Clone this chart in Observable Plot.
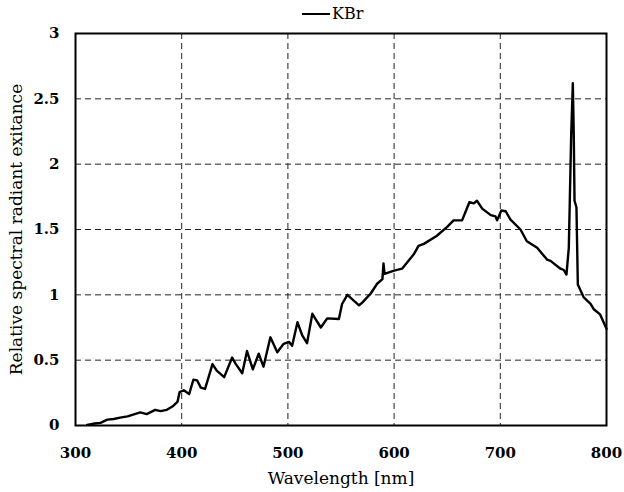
<!DOCTYPE html>
<html>
<head>
<meta charset="utf-8">
<script src="https://cdn.jsdelivr.net/npm/d3@7"></script>
<script src="https://cdn.jsdelivr.net/npm/@observablehq/plot@0.6"></script>
<style>
  html, body { margin: 0; padding: 0; background: #fff; }
  #wrap { position: relative; width: 624px; height: 492px; }
  #legend { position: absolute; left: 302px; top: 4px; font-family: "DejaVu Serif", serif; font-size: 16px; color: #000; display: flex; align-items: center; }
  #legend .sw { display: inline-block; width: 28px; height: 0; border-top: 2px solid #000; margin-right: 2px; }
  svg text { font-family: "DejaVu Serif", serif; fill: #000; }
  g[aria-label="x-axis tick label"] text, g[aria-label="y-axis tick label"] text { font-weight: bold; font-size: 15px; }
  g[aria-label="x-axis label"] text, g[aria-label="y-axis label"] text { font-size: 17px; }
</style>
</head>
<body>
<div id="wrap">
  <div id="legend"><span class="sw"></span><span id="legendText"></span></div>
</div>
<script>
const seriesName = "KBr";
const xTicks = [300, 400, 500, 600, 700, 800];
const yTicks = [0, 0.5, 1, 1.5, 2, 2.5, 3];
const xTickLabels = ["300", "400", "500", "600", "700", "800"];
const yTickLabels = ["0", "0.5", "1", "1.5", "2", "2.5", "3"];
const xTitle = "Wavelength [nm]";
const yTitle = "Relative spectral radiant exitance";

const wavelength = [
  311, 318, 323.5, 330, 336, 342, 349, 355, 361, 367, 375, 380, 386, 392, 396, 398,
  402, 407, 411, 414.5, 418, 422, 429, 433, 440, 447.5, 451, 457, 461.5, 467, 472.5, 477,
  483.5, 490, 496, 501, 504, 509, 513.5, 518, 523, 531, 537, 548, 551, 556, 567, 570,
  578, 584, 589, 590, 591, 600, 607.5, 618.5, 623, 628, 640, 650, 656, 664, 667, 671,
  675, 678, 683, 691, 695.5, 697, 701, 705, 709.6, 719, 725, 734.7, 744, 747.3, 756.7,
  759.8, 762.3, 764.5, 765.4, 766.7, 768.3, 769.2, 769.9, 771.7, 773, 778.6, 785, 788,
  794, 800
];
const exitance = [
  0.005, 0.015, 0.02, 0.045, 0.05, 0.06, 0.07, 0.085, 0.10, 0.087, 0.12, 0.11, 0.12, 0.15, 0.18, 0.255,
  0.27, 0.24, 0.35, 0.345, 0.29, 0.28, 0.47, 0.42, 0.37, 0.52, 0.47, 0.40, 0.57, 0.43, 0.55, 0.45,
  0.675, 0.56, 0.625, 0.64, 0.61, 0.79, 0.69, 0.63, 0.855, 0.75, 0.82, 0.815, 0.93, 1.00, 0.92, 0.94,
  1.01, 1.085, 1.12, 1.24, 1.16, 1.185, 1.2, 1.31, 1.375, 1.39, 1.45, 1.52, 1.57, 1.57, 1.63, 1.71,
  1.70, 1.72, 1.66, 1.61, 1.60, 1.57, 1.645, 1.64, 1.575, 1.5, 1.41, 1.36, 1.27, 1.26, 1.2,
  1.19, 1.155, 1.36, 1.70, 2.21, 2.62, 2.21, 1.72, 1.67, 1.08, 0.98, 0.93, 0.89,
  0.85, 0.74
];

const data = wavelength.map((w, i) => ({w, v: exitance[i]}));
document.getElementById("legendText").textContent = seriesName;

const chart = Plot.plot({
  width: 624,
  height: 492,
  marginLeft: 75,
  marginRight: 18,
  marginTop: 33,
  marginBottom: 67,
  x: {domain: [300, 800]},
  y: {domain: [0, 3]},
  marks: [
    Plot.gridX(xTicks, {stroke: "#222", strokeOpacity: 1, strokeWidth: 1, strokeDasharray: "6,4"}),
    Plot.gridY(yTicks, {stroke: "#222", strokeOpacity: 1, strokeWidth: 1, strokeDasharray: "6,4"}),
    Plot.axisX(xTicks, {tickSize: 0, tickPadding: 22, tickFormat: (d) => xTickLabels[xTicks.indexOf(d)],
      label: xTitle, labelAnchor: "center", labelArrow: "none", labelOffset: 58}),
    Plot.axisY(yTicks, {tickSize: 0, tickPadding: 16, tickFormat: (d) => yTickLabels[yTicks.indexOf(d)],
      label: yTitle, labelAnchor: "center", labelArrow: "none", labelOffset: 66}),
    Plot.line(data, {x: "w", y: "v", stroke: "#000", strokeWidth: 2.4, strokeLinejoin: "round"}),
    Plot.frame({stroke: "#000", strokeWidth: 2})
  ]
});
document.getElementById("wrap").appendChild(chart);
</script>
</body>
</html>
